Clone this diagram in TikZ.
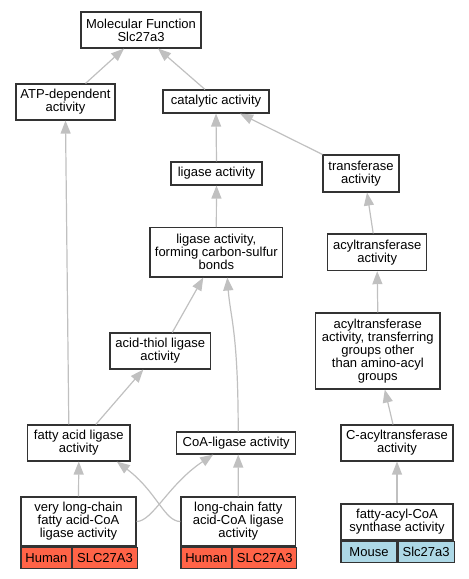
\documentclass[tikz,border=0pt]{standalone}
\usepackage{fontspec}
\setmainfont{Liberation Sans}
\usetikzlibrary{arrows.meta}
\definecolor{borde}{HTML}{333333}
\definecolor{linea}{HTML}{C0C0C0}
\definecolor{humano}{HTML}{FF6347}
\definecolor{raton}{HTML}{ADD8E6}
\tikzstyle{caja}=[draw=borde,line width=1.1pt,fill=white,align=center,inner sep=0pt,font=\fontsize{13}{13}\selectfont]
\tikzstyle{celda}=[caja,minimum height=21.5,anchor=north west]
\tikzstyle{flecha}=[draw=linea,line width=1.2pt,-{Triangle[length=13pt,width=10pt]}]

\begin{document}
\begin{tikzpicture}[x=1pt,y=-1pt]
    \useasboundingbox (0,0) rectangle (469,579);
    \node [caja,minimum width=120,minimum height=36] (mf) at (141,30) {Molecular Function\\Slc27a3};
    \node [caja,minimum width=99,minimum height=36] (atp) at (65.5,102) {ATP-dependent\\activity};
    \node [caja,minimum width=106,minimum height=23] (cat) at (216,101.5) {catalytic activity};
    \node [caja,minimum width=91,minimum height=23] (lig) at (216.5,173.5) {ligase activity};
    \node [caja,minimum width=76,minimum height=37] (trans) at (361,173.5) {transferase\\activity};
    \node [caja,minimum width=132.7,minimum height=49.3] (lcs) at (216.3,252.3) {ligase activity,\\forming carbon-sulfur\\bonds};
    \node [caja,minimum width=99,minimum height=36.7] (acyl) at (377.2,252.3) {acyltransferase\\activity};
    \node [caja,minimum width=100.7,minimum height=36] (thiol) at (160.3,351) {acid-thiol ligase\\activity};
    \node [caja,minimum width=124.3,minimum height=76] (acyltr) at (377.8,351) {acyltransferase\\activity, transferring\\groups other\\than amino-acyl\\groups};
    \node [caja,minimum width=102.3,minimum height=36] (fal) at (78.8,443) {fatty acid ligase\\activity};
    \node [caja,minimum width=119,minimum height=22] (coa) at (236.2,443) {CoA-ligase activity};
    \node [caja,minimum width=112,minimum height=36] (cacyl) at (397,443) {C-acyltransferase\\activity};
    % genes
    \node [caja,minimum width=115,minimum height=49] (vlc) at (78.5,521.5) {very long-chain\\fatty acid-CoA\\ligase activity};
    \node [celda,fill=humano,minimum width=50.7] (vlch) at (vlc.south west) {Human};
    \node [celda,fill=humano,minimum width=64.3] (vlcg) at (vlch.north east) {SLC27A3};
    \node [caja,minimum width=114.7,minimum height=49] (lc) at (238.3,521.5) {long-chain fatty\\acid-CoA ligase\\activity};
    \node [celda,fill=humano,minimum width=50.7] (lch) at (lc.south west) {Human};
    \node [celda,fill=humano,minimum width=64] (lcg) at (lch.north east) {SLC27A3};
    \node [caja,minimum width=112,minimum height=36] (fas) at (397,522) {fatty-acyl-CoA\\synthase activity};
    \node [celda,fill=raton,minimum width=56,minimum height=21] (fasm) at (fas.south west) {Mouse};
    \node [celda,fill=raton,minimum width=56,minimum height=21] (fasg) at (fasm.north east) {Slc27a3};
    % is_a
    \draw [flecha] ([xshift=20]atp.north) -- ([xshift=-17]mf.south);
    \draw [flecha] ([xshift=-11]cat.north) -- ([xshift=17]mf.south);
    \draw [flecha] (lig.north) -- (cat.south);
    \draw [flecha] (trans.north west) -- ([xshift=24]cat.south);
    \draw [flecha] (lcs.north) -- (lig.south);
    \draw [flecha] ([xshift=-4]acyl.north) -- ([xshift=6]trans.south);
    \draw [flecha] (acyltr.north) -- (acyl.south);
    \draw [flecha] ([xshift=12]thiol.north) -- ([xshift=-13]lcs.south);
    \draw [flecha] ([xshift=2]coa.north) .. controls +(0,-100) and +(3,40) .. ([xshift=11]lcs.south);
    \draw [flecha] ([xshift=17]fal.north) -- ([xshift=-17]thiol.south);
    \draw [flecha] ([xshift=-10]fal.north) -- (atp.south);
    \draw [flecha] ([xshift=-4]cacyl.north) -- ([xshift=7]acyltr.south);
    \draw [flecha] (vlc.north) -- (fal.south);
    \draw [flecha] (vlc.east) .. controls +(16,0) and +(-45,30) .. ([xshift=-23]coa.south);
    \draw [flecha] (lc.west) .. controls +(-16,0) and +(40,30) .. ([xshift=38]fal.south);
    \draw [flecha] (lc.north) -- ([xshift=2]coa.south);
    \draw [flecha] (fas.north) -- (cacyl.south);
\end{tikzpicture}
\end{document}
